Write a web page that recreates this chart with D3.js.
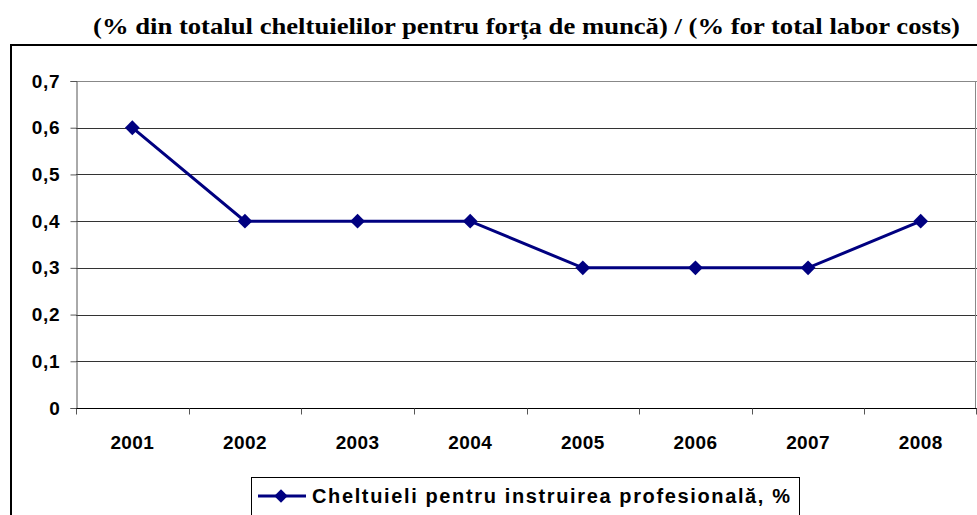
<!DOCTYPE html>
<html>
<head>
<meta charset="utf-8">
<script src="https://cdn.jsdelivr.net/npm/d3@7"></script>
<style>
  body { margin: 0; background: #fff; }
  svg { display: block; }
  .sans { font-family: "Liberation Sans", Arial, sans-serif; font-weight: bold; }
</style>
</head>
<body>
<svg id="chart" width="977" height="515"></svg>
<script>
const years = ['2001', '2002', '2003', '2004', '2005', '2006', '2007', '2008']
const values = [0.6, 0.4, 0.4, 0.4, 0.3, 0.3, 0.3, 0.4]
const yTicks = [0, 0.1, 0.2, 0.3, 0.4, 0.5, 0.6, 0.7]
const seriesName = 'Cheltuieli pentru instruirea profesională, %'
const title = '(% din totalul cheltuielilor pentru forța de muncă) / (% for total labor costs)'

const svg = d3.select('#chart')
const plot = { left: 76, right: 977, top: 81, bottom: 408 }

// outer chart frame (runs off the picture at right and bottom)
svg.append('rect')
  .attr('x', 11).attr('y', 45)
  .attr('width', 1000).attr('height', 500)
  .attr('fill', 'none').attr('stroke', '#000').attr('stroke-width', 2)

svg.append('text')
  .attr('x', 93).attr('y', 34)
  .attr('textLength', 867).attr('lengthAdjust', 'spacingAndGlyphs')
  .attr('font-family', 'Liberation Serif')
  .attr('font-weight', 'bold')
  .attr('font-size', 24)
  .text(title)

const x = d3.scaleBand().domain(years).range([plot.left, plot.right])
const y = d3.scaleLinear().domain([0, 0.7]).range([plot.bottom, plot.top])

// gridlines
svg.append('g').selectAll('line')
  .data(yTicks.filter(d => d > 0))
  .join('line')
  .attr('x1', plot.left).attr('x2', plot.right)
  .attr('y1', d => Math.round(y(d)) + 0.5).attr('y2', d => Math.round(y(d)) + 0.5)
  .attr('stroke', d => d === 0.7 ? '#888' : '#333')

// right plot border
svg.append('line')
  .attr('x1', plot.right - 1.5).attr('x2', plot.right - 1.5)
  .attr('y1', plot.top).attr('y2', plot.bottom)
  .attr('stroke', '#888')

// y axis
const yAxis = svg.append('g')
  .attr('transform', `translate(${plot.left + 0.5},0)`)
  .call(d3.axisLeft(y).tickValues(yTicks).tickSize(6).tickPadding(10)
    .tickFormat(d => d === 0 ? '0' : d3.format('.1f')(d).replace('.', ',')))
yAxis.attr('font-family', null).attr('font-size', null)
yAxis.select('.domain').attr('stroke', '#555')
yAxis.selectAll('.tick line').attr('stroke', '#555')
yAxis.selectAll('text')
  .attr('class', 'sans')
  .style('font-size', '19px')
  .style('letter-spacing', '0.8px')
  .attr('fill', '#000')

// x axis
const xAxis = svg.append('g')
  .attr('transform', `translate(0,${plot.bottom + 0.5})`)
xAxis.append('line')
  .attr('x1', plot.left).attr('x2', plot.right)
  .attr('stroke', '#000')
xAxis.selectAll('.tk')
  .data(years.map(d => x(d)).concat([plot.right - 1.5]))
  .join('line')
  .attr('x1', d => Math.round(d) + 0.5).attr('x2', d => Math.round(d) + 0.5)
  .attr('y1', 0).attr('y2', 6)
  .attr('stroke', '#555')
xAxis.selectAll('text')
  .data(years)
  .join('text')
  .attr('class', 'sans')
  .attr('x', d => x(d) + x.bandwidth() / 2)
  .attr('y', 40)
  .attr('text-anchor', 'middle')
  .style('font-size', '19px')
  .style('letter-spacing', '0.4px')
  .text(d => d)

// series line
const cx = d => x(d) + x.bandwidth() / 2
const line = d3.line().x((d, i) => cx(years[i])).y(d => y(d))
svg.append('path')
  .datum(values)
  .attr('d', line)
  .attr('fill', 'none').attr('stroke', '#000080').attr('stroke-width', 3)

svg.append('g').selectAll('path')
  .data(values)
  .join('path')
  .attr('transform', (d, i) => `translate(${cx(years[i])},${y(d)}) rotate(45)`)
  .attr('d', d3.symbol().type(d3.symbolSquare).size(110))
  .attr('fill', '#000080')

// legend
const lg = svg.append('g').attr('transform', 'translate(251,477)')
lg.append('rect')
  .attr('x', 0.5).attr('y', 0.5).attr('width', 548).attr('height', 40)
  .attr('fill', '#fff').attr('stroke', '#000')
lg.append('line')
  .attr('x1', 7).attr('x2', 55).attr('y1', 19).attr('y2', 19)
  .attr('stroke', '#000080').attr('stroke-width', 3)
lg.append('path')
  .attr('transform', 'translate(30,19) rotate(45)')
  .attr('d', d3.symbol().type(d3.symbolSquare).size(90))
  .attr('fill', '#000080')
lg.append('text')
  .attr('class', 'sans')
  .attr('x', 61).attr('y', 26)
  .attr('textLength', 478).attr('lengthAdjust', 'spacing')
  .style('font-size', '20px')
  .text(seriesName)
</script>
</body>
</html>
